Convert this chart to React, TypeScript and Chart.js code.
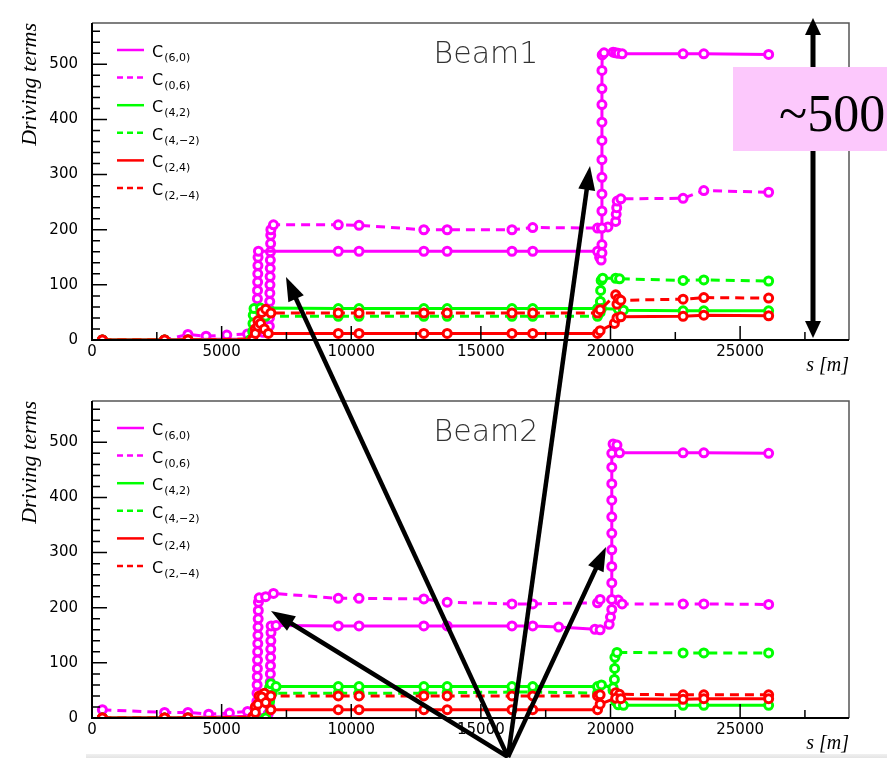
import React, { useEffect, useRef } from 'react';
import { Chart, registerables } from 'chart.js';

Chart.register(...registerables);

type P = [number, number];

// ---- data (s [m], driving term) ----
const LABELS = ['C(6,0)', 'C(0,6)', 'C(4,2)', 'C(4,−2)', 'C(2,4)', 'C(2,−4)'];
const COLORS = ['#ff00ff', '#ff00ff', '#00ff00', '#00ff00', '#ff0000', '#ff0000'];
const DASHED = [false, true, false, true, false, true];
const ORDER = [3, 3, 2, 2, 1, 1];

const X_MAX = 29200;
const Y_MAX = 575;
const X_TICKS = [0, 5000, 10000, 15000, 20000, 25000];
const Y_TICKS = [0, 100, 200, 300, 400, 500];
const X_MAJOR = 5000;
const X_MINOR = 2500;
const Y_MAJOR = 100;
const Y_MINOR = 20;

// Beam 1
const B1_C60: P[] = [
  [400, 0], [2800, 0], [3700, 1], [6150, 2],
  [6360, 15], [6365, 30], [6370, 45], [6375, 60], [6380, 75], [6385, 90], [6390, 105], [6395, 120], [6400, 135], [6405, 150], [6420, 161],
  [9500, 161], [10300, 161], [12800, 161], [13700, 161], [16200, 161], [17000, 161], [19500, 161],
  [19580, 150], [19640, 145], [19670, 158], [19670, 173], [19670, 203], [19670, 234], [19670, 265], [19670, 295], [19670, 327],
  [19670, 362], [19670, 395], [19670, 427], [19670, 456], [19670, 489], [19680, 517],
  [19750, 521], [20100, 522], [20200, 521], [20300, 520], [20450, 519], [22800, 519], [23600, 519], [26100, 518],
];
const B1_C06: P[] = [
  [400, 0], [2800, 0], [3700, 10], [4400, 7], [5200, 9], [6000, 11], [6600, 14],
  [6840, 25], [6845, 40], [6850, 55], [6855, 70], [6860, 85], [6865, 100], [6870, 115], [6875, 130], [6880, 145],
  [6885, 160], [6890, 175], [6895, 190], [6900, 200], [7000, 209],
  [9500, 209], [10300, 208], [12800, 200], [13700, 200], [16200, 200], [17000, 204], [19500, 203], [19650, 203], [19900, 205],
  [20200, 215], [20220, 228], [20240, 240], [20260, 252], [20400, 256], [22800, 257], [23600, 271], [26100, 268],
];
const B1_C42: P[] = [
  [400, 0], [2800, 0], [3700, 0], [6100, 0], [6200, 15], [6210, 30], [6220, 45], [6250, 57], [6500, 58],
  [9500, 57], [10300, 57], [12800, 57], [13700, 57], [16200, 57], [17000, 57], [19500, 57], [19650, 57],
  [20300, 56], [20500, 54], [22800, 53], [23600, 53], [26100, 53],
];
const B1_C4m2: P[] = [
  [400, 0], [2800, 0], [3700, 0], [6100, 0], [6250, 20], [6300, 35], [6400, 43], [6700, 43],
  [9500, 43], [10300, 43], [12800, 43], [13700, 43], [16200, 43], [17000, 43], [19500, 43],
  [19600, 50], [19610, 70], [19620, 90], [19640, 108], [19700, 112], [20200, 112], [20350, 111],
  [22800, 108], [23600, 109], [26100, 107],
];
const B1_C24: P[] = [
  [400, 0], [2800, 0], [3700, 0], [6200, 0], [6300, 12], [6400, 25], [6500, 30], [6650, 20], [6800, 12],
  [9500, 12], [10300, 12], [12800, 12], [13700, 12], [16200, 12], [17000, 12], [19500, 12], [19600, 17],
  [20150, 30], [20250, 40], [20400, 42], [22800, 43], [23600, 45], [26100, 44],
];
const B1_C2m4: P[] = [
  [400, 0], [2800, 0], [3700, 0], [6200, 2], [6300, 20], [6400, 35], [6550, 50], [6700, 56], [6900, 49],
  [9500, 49], [10300, 49], [12800, 49], [13700, 49], [16200, 49], [17000, 49], [19500, 49], [19600, 55],
  [20200, 82], [20250, 65], [20300, 75], [20400, 72], [22800, 74], [23600, 77], [26100, 76],
];

// Beam 2
const B2_C60: P[] = [
  [400, 0], [2800, 0], [3700, 1], [6200, 3], [6800, 8],
  [6860, 20], [6865, 35], [6870, 50], [6875, 65], [6880, 80], [6885, 95], [6890, 110], [6895, 125], [6900, 140], [6905, 155], [6910, 167], [7100, 168],
  [9500, 167], [10300, 167], [12800, 167], [13700, 167], [16200, 167], [17000, 167], [18000, 165], [19400, 161], [19600, 160],
  [19950, 170], [20000, 183], [20050, 197], [20050, 215], [20050, 245], [20050, 275], [20050, 305], [20050, 335], [20050, 365],
  [20050, 395], [20050, 425], [20050, 455], [20050, 480], [20100, 497], [20250, 495], [20350, 481],
  [22800, 481], [23600, 481], [26100, 480],
];
const B2_C06: P[] = [
  [400, 15], [2800, 10], [3700, 10], [4500, 7], [5300, 9], [6000, 12], [6300, 16],
  [6360, 30], [6365, 45], [6370, 60], [6375, 75], [6380, 90], [6385, 105], [6390, 120], [6395, 135], [6400, 150],
  [6405, 165], [6410, 180], [6415, 195], [6420, 210], [6450, 218], [6700, 220], [7000, 226],
  [9500, 217], [10300, 217], [12800, 216], [13700, 210], [16200, 207], [17000, 207], [19500, 209], [19600, 215],
  [20300, 214], [20450, 207], [22800, 207], [23600, 207], [26100, 206],
];
const B2_C42: P[] = [
  [400, 0], [2800, 0], [3700, 0], [6700, 0], [6800, 30], [6850, 55], [6900, 62], [7100, 57],
  [9500, 57], [10300, 57], [12800, 57], [13700, 57], [16200, 57], [17000, 57], [19500, 57], [19650, 60],
  [20100, 55], [20200, 30], [20300, 24], [20500, 23], [22800, 23], [23600, 23], [26100, 23],
];
const B2_C4m2: P[] = [
  [400, 0], [2800, 0], [3700, 0], [6700, 0], [6850, 30], [6950, 45],
  [9500, 45], [10300, 45], [12800, 45], [13700, 46], [16200, 47], [17000, 47], [19500, 45],
  [20100, 50], [20150, 70], [20160, 90], [20170, 110], [20250, 119], [22800, 118], [23600, 118], [26100, 118],
];
const B2_C24: P[] = [
  [400, 0], [2800, 0], [3700, 0], [6200, 0], [6300, 10], [6400, 25], [6550, 38], [6700, 28], [6900, 15],
  [9500, 15], [10300, 15], [12800, 15], [13700, 15], [16200, 15], [17000, 15], [19500, 15], [19600, 25],
  [20200, 36], [20400, 35], [22800, 34], [23600, 35], [26100, 35],
];
const B2_C2m4: P[] = [
  [400, 0], [2800, 0], [3700, 0], [6200, 2], [6300, 20], [6450, 40], [6650, 45], [6900, 40],
  [9500, 40], [10300, 40], [12800, 40], [13700, 40], [16200, 40], [17000, 40], [19500, 40], [19600, 42],
  [20200, 46], [20350, 43], [22800, 42], [23600, 42], [26100, 42],
];

const BEAM1 = [B1_C60, B1_C06, B1_C42, B1_C4m2, B1_C24, B1_C2m4];
const BEAM2 = [B2_C60, B2_C06, B2_C42, B2_C4m2, B2_C24, B2_C2m4];

function makeDecor(title: string) {
  return {
    id: 'rootDecor',
    afterDraw(chart: any) {
      const { ctx, chartArea: a, scales } = chart;
      const xs = scales.x;
      const ys = scales.y;
      ctx.save();
      // frame
      ctx.strokeStyle = '#555';
      ctx.lineWidth = 1.5;
      ctx.beginPath();
      ctx.moveTo(a.left, a.top);
      ctx.lineTo(a.right, a.top);
      ctx.lineTo(a.right, a.bottom);
      ctx.stroke();
      ctx.strokeStyle = '#000';
      ctx.lineWidth = 2;
      ctx.beginPath();
      ctx.moveTo(a.left, a.top);
      ctx.lineTo(a.left, a.bottom);
      ctx.lineTo(a.right, a.bottom);
      ctx.stroke();
      // inward ticks
      ctx.lineWidth = 1.5;
      ctx.beginPath();
      for (let v = 0; v <= ys.max; v += Y_MINOR) {
        const py = ys.getPixelForValue(v);
        const len = v % Y_MAJOR === 0 ? 15 : 8;
        ctx.moveTo(a.left, py);
        ctx.lineTo(a.left + len, py);
      }
      for (let v = 0; v <= xs.max; v += X_MINOR) {
        const px = xs.getPixelForValue(v);
        const len = v % X_MAJOR === 0 ? 14 : 8;
        ctx.moveTo(px, a.bottom);
        ctx.lineTo(px, a.bottom - len);
      }
      ctx.stroke();
      // legend
      chart.data.datasets.forEach((ds: any, i: number) => {
        const ly = a.top + 27 + i * 27.6;
        ctx.strokeStyle = ds.borderColor;
        ctx.lineWidth = 2.5;
        ctx.setLineDash(DASHED[i] ? [6, 4] : []);
        ctx.beginPath();
        ctx.moveTo(a.left + 25, ly);
        ctx.lineTo(a.left + 52, ly);
        ctx.stroke();
        ctx.setLineDash([]);
        ctx.fillStyle = '#000';
        ctx.textAlign = 'left';
        ctx.textBaseline = 'alphabetic';
        ctx.font = '16px "DejaVu Sans"';
        ctx.fillText('C', a.left + 60, ly + 7);
        const w = ctx.measureText('C').width;
        ctx.font = '11px "DejaVu Sans"';
        ctx.fillText(String(ds.label).slice(1), a.left + 60 + w + 1, ly + 11);
      });
      // title
      ctx.font = '300 30px "DejaVu Sans"';
      ctx.fillStyle = '#333';
      ctx.textAlign = 'center';
      ctx.fillText(title, a.left + 394, a.top + 40);
      ctx.restore();
    },
  };
}

function Panel({ top, padTop, title, series }: { top: number; padTop: number; title: string; series: P[][] }) {
  const ref = useRef<HTMLCanvasElement>(null);
  useEffect(() => {
    const chart = new Chart(ref.current as HTMLCanvasElement, {
      type: 'line',
      data: {
        datasets: series.map((pts, i) => ({
          label: LABELS[i],
          data: pts.map(([x, y]) => ({ x, y })),
          borderColor: COLORS[i],
          backgroundColor: '#fff',
          borderWidth: 3,
          borderDash: DASHED[i] ? [9, 6] : [],
          pointRadius: 4,
          pointBorderWidth: 3,
          pointBackgroundColor: '#fff',
          pointBorderColor: COLORS[i],
          order: ORDER[i],
          tension: 0,
          fill: false,
        })),
      },
      options: {
        responsive: false,
        animation: false,
        layout: { padding: { left: 0, right: 38, top: padTop, bottom: 0 } },
        plugins: { legend: { display: false }, tooltip: { enabled: false } },
        scales: {
          x: {
            type: 'linear',
            min: 0,
            max: X_MAX,
            afterFit: (s: any) => { s.height = 40; },
            afterBuildTicks: (s: any) => { s.ticks = X_TICKS.map((value) => ({ value })); },
            grid: { display: false, drawTicks: false },
            border: { display: false },
            ticks: {
              autoSkip: false,
              maxRotation: 0,
              padding: 3,
              color: '#000',
              font: { family: 'DejaVu Sans', size: 15 },
              callback: (v: any) => String(v),
            },
            title: {
              display: true,
              text: 's [m]',
              align: 'end',
              color: '#000',
              font: { family: 'Liberation Serif', size: 20, style: 'italic' },
              padding: { top: 0, bottom: 2 },
            },
          },
          y: {
            type: 'linear',
            min: 0,
            max: Y_MAX,
            afterFit: (s: any) => { s.width = 92; },
            afterBuildTicks: (s: any) => { s.ticks = Y_TICKS.map((value) => ({ value })); },
            grid: { display: false, drawTicks: false },
            border: { display: false },
            ticks: {
              autoSkip: false,
              padding: 14,
              color: '#000',
              font: { family: 'DejaVu Sans', size: 15 },
              callback: (v: any) => String(v),
            },
            title: {
              display: true,
              text: 'Driving terms',
              align: 'end',
              color: '#000',
              font: { family: 'Liberation Serif', size: 22, style: 'italic' },
              padding: { top: 17, bottom: 0 },
            },
          },
        },
      } as any,
      plugins: [makeDecor(title)],
    });
    return () => chart.destroy();
  }, []);
  return (
    <canvas
      ref={ref}
      width={887}
      height={380}
      style={{ position: 'absolute', left: 0, top, width: 887, height: 380 }}
    />
  );
}

function Arrow({ x1, y1, x2, y2, w = 4.5, hl = 24, hw = 8.5, both = false }: any) {
  const dx = x2 - x1;
  const dy = y2 - y1;
  const L = Math.hypot(dx, dy);
  const ux = dx / L;
  const uy = dy / L;
  const px = -uy;
  const py = ux;
  const head = (tx: number, ty: number, sx: number, sy: number) => {
    const bx = tx - sx * hl;
    const by = ty - sy * hl;
    return `${tx},${ty} ${bx + px * hw},${by + py * hw} ${bx - px * hw},${by - py * hw}`;
  };
  const sx = both ? x1 + ux * (hl - 2) : x1;
  const sy = both ? y1 + uy * (hl - 2) : y1;
  return (
    <g>
      <line x1={sx} y1={sy} x2={x2 - ux * (hl - 2)} y2={y2 - uy * (hl - 2)} stroke="#000" strokeWidth={w} />
      <polygon points={head(x2, y2, ux, uy)} fill="#000" />
      {both ? <polygon points={head(x1, y1, -ux, -uy)} fill="#000" /> : null}
    </g>
  );
}

export default function App() {
  return (
    <div style={{ position: 'absolute', left: 0, top: 0, width: 887, height: 758, background: '#fff', overflow: 'hidden' }}>
      <Panel top={0} padTop={9} title="Beam1" series={BEAM1} />
      <Panel top={378} padTop={10} title="Beam2" series={BEAM2} />
      <div
        style={{
          position: 'absolute', left: 86, top: 754, width: 801, height: 4,
          background: 'linear-gradient(#f0f0f0, #e4e4e4)',
        }}
      />
      <svg width={887} height={758} style={{ position: 'absolute', left: 0, top: 0, pointerEvents: 'none' }}>
        <Arrow x1={813} y1={18} x2={813} y2={338} w={5} hl={17} hw={8} both />
        <Arrow x1={508} y1={757} x2={286} y2={277} />
        <Arrow x1={508} y1={757} x2={590} y2={166} />
        <Arrow x1={508} y1={757} x2={271} y2={611} />
        <Arrow x1={508} y1={757} x2={606} y2={547} />
        <rect x={733} y={67} width={154} height={84} fill="#fcc8fc" />
        <text x={779} y={131} fontFamily="Liberation Serif" fontSize={52} fill="#000">~500</text>
      </svg>
    </div>
  );
}
